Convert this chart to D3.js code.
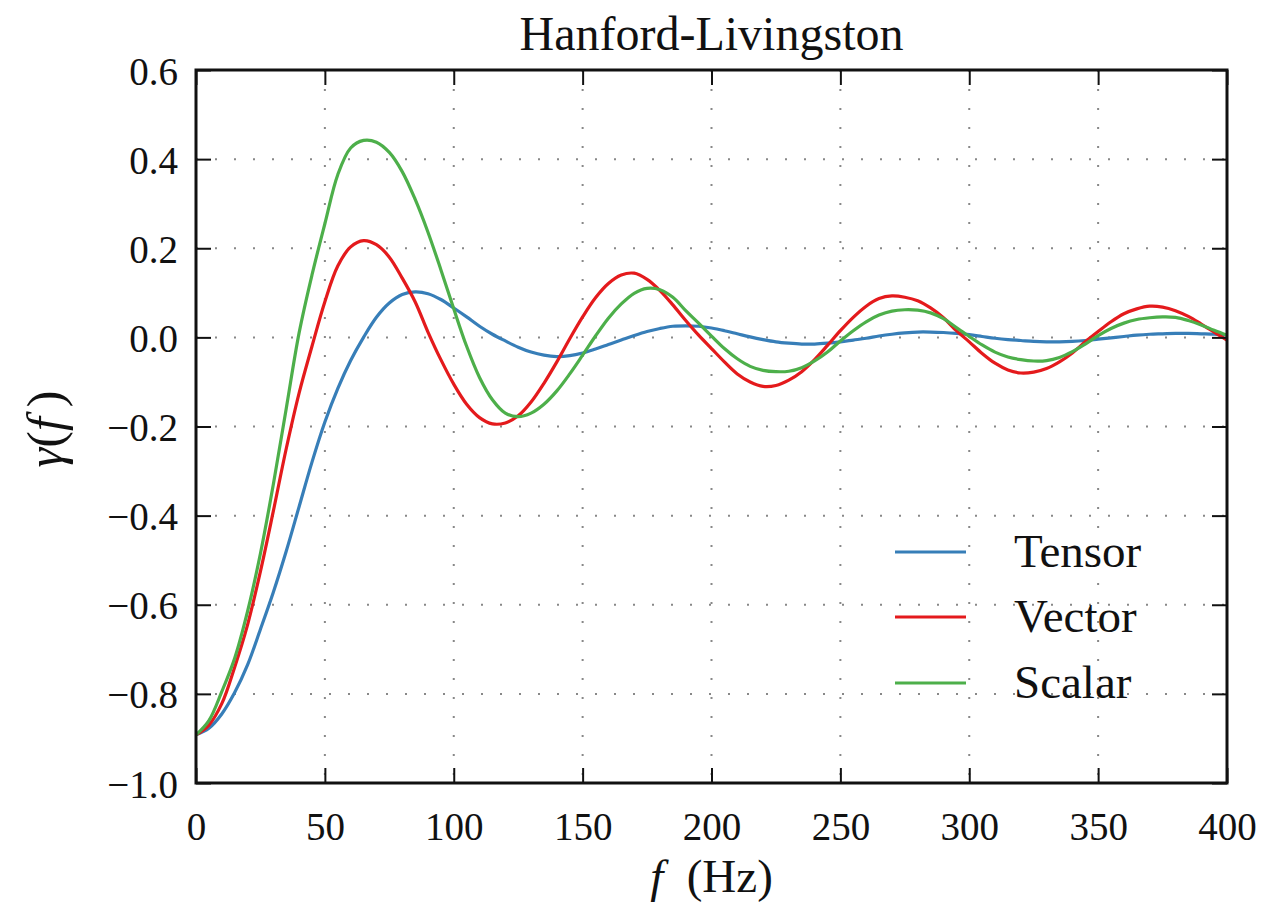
<!DOCTYPE html>
<html>
<head>
<meta charset="utf-8">
<script src="https://cdn.jsdelivr.net/npm/d3@7"></script>
<style>
    body { margin: 0; background: #fff; }
</style>
</head>
<body>
<svg id="chart" width="1272" height="906"></svg>
<script>
// frequency samples (Hz) and overlap reduction values
const freq = [0, 5, 10, 15, 20, 25, 30, 35, 40, 45, 50, 55, 60, 65, 70, 75, 80, 85, 90, 95,
    100, 105, 110, 115, 120, 125, 130, 135, 140, 145, 150, 155, 160, 165, 170, 175, 180, 185, 190, 195,
    200, 205, 210, 215, 220, 225, 230, 235, 240, 245, 250, 255, 260, 265, 270, 275, 280, 285, 290, 295,
    300, 305, 310, 315, 320, 325, 330, 335, 340, 345, 350, 355, 360, 365, 370, 375, 380, 385, 390, 395, 400];

const tensor = [-0.892, -0.877, -0.845, -0.797, -0.735, -0.655, -0.572, -0.480, -0.380, -0.280,
    -0.190, -0.115, -0.052, 0.000, 0.045, 0.077, 0.096, 0.102, 0.098, 0.085,
    0.066, 0.046, 0.025, 0.007, -0.008, -0.022, -0.033, -0.040, -0.043, -0.041,
    -0.035, -0.026, -0.016, -0.006, 0.004, 0.013, 0.020, 0.025, 0.026, 0.025,
    0.021, 0.015, 0.008, 0.001, -0.005, -0.010, -0.013, -0.015, -0.015, -0.013,
    -0.010, -0.006, -0.002, 0.003, 0.007, 0.010, 0.012, 0.012, 0.011, 0.009,
    0.006, 0.002, -0.002, -0.005, -0.007, -0.009, -0.010, -0.010, -0.009, -0.007,
    -0.004, -0.001, 0.002, 0.005, 0.007, 0.008, 0.009, 0.009, 0.008, 0.007, 0.005];

const vector = [-0.892, -0.870, -0.822, -0.740, -0.645, -0.525, -0.390, -0.250, -0.125, -0.020,
    0.080, 0.160, 0.203, 0.217, 0.208, 0.180, 0.133, 0.080, 0.012, -0.050,
    -0.105, -0.150, -0.180, -0.194, -0.192, -0.176, -0.145, -0.103, -0.055, -0.003,
    0.046, 0.089, 0.121, 0.140, 0.144, 0.130, 0.105, 0.073, 0.038, 0.005,
    -0.025, -0.055, -0.082, -0.100, -0.110, -0.108, -0.096, -0.077, -0.050, -0.018,
    0.015, 0.045, 0.070, 0.087, 0.093, 0.090, 0.082, 0.066, 0.044, 0.015,
    -0.010, -0.036, -0.058, -0.073, -0.080, -0.078, -0.070, -0.055, -0.035, -0.010,
    0.013, 0.035, 0.053, 0.064, 0.070, 0.068, 0.060, 0.047, 0.030, 0.012, -0.006];

const scalar = [-0.892, -0.860, -0.795, -0.720, -0.615, -0.485, -0.330, -0.160, 0.010, 0.140,
    0.255, 0.365, 0.425, 0.442, 0.438, 0.415, 0.372, 0.310, 0.236, 0.152,
    0.064, -0.020, -0.090, -0.140, -0.170, -0.178, -0.170, -0.150, -0.120, -0.082,
    -0.040, 0.003, 0.043, 0.075, 0.099, 0.110, 0.107, 0.090, 0.060, 0.032,
    0.003, -0.025, -0.048, -0.065, -0.074, -0.077, -0.076, -0.068, -0.053, -0.033,
    -0.008, 0.015, 0.035, 0.050, 0.059, 0.062, 0.061, 0.055, 0.042, 0.022,
    0.002, -0.017, -0.033, -0.044, -0.050, -0.053, -0.052, -0.045, -0.032, -0.015,
    0.004, 0.020, 0.032, 0.040, 0.044, 0.046, 0.045, 0.038, 0.028, 0.016, 0.005];

const seriesNames = ["Tensor", "Vector", "Scalar"];
const seriesColors = ["#377eb8", "#e41a1c", "#4daf4a"];
const xTicks = [0, 50, 100, 150, 200, 250, 300, 350, 400];
const yTicks = [-1.0, -0.8, -0.6, -0.4, -0.2, 0.0, 0.2, 0.4, 0.6];

const serif = '"Liberation Serif", "DejaVu Serif", serif';
const margin = {left: 196, right: 45, top: 70, bottom: 123};
const width = 1272 - margin.left - margin.right;
const height = 906 - margin.top - margin.bottom;

const svg = d3.select("#chart");
const g = svg.append("g").attr("transform", "translate(" + margin.left + "," + margin.top + ")");

const x = d3.scaleLinear().domain([0, 400]).range([0, width]);
const y = d3.scaleLinear().domain([-1.0, 0.6]).range([height, 0]);

// dotted grid
const grid = g.append("g").attr("class", "grid")
    .attr("stroke", "#888")
    .attr("stroke-width", 2)
    .attr("stroke-dasharray", "2,17");
grid.selectAll(".vgrid")
    .data(xTicks.slice(1, -1))
    .join("line")
    .attr("x1", d => x(d)).attr("x2", d => x(d))
    .attr("y1", 0).attr("y2", height);
grid.selectAll(".hgrid")
    .data(yTicks.slice(1, -1))
    .join("line")
    .attr("y1", d => y(d)).attr("y2", d => y(d))
    .attr("x1", 0).attr("x2", width);

// curves
const series = [tensor, vector, scalar];
const line = d3.line()
    .x((d, i) => x(freq[i]))
    .y(d => y(d))
    .curve(d3.curveCatmullRom.alpha(0.5));

g.append("g").attr("class", "curves")
    .selectAll("path")
    .data(series)
    .join("path")
    .attr("d", d => line(d))
    .attr("fill", "none")
    .attr("stroke", (d, i) => seriesColors[i])
    .attr("stroke-width", 3.2)
    .attr("stroke-linejoin", "round");

// axes: ticks point inward on all four sides
const tickLen = 15;
function styleAxis(sel){
    sel.attr("font-family", serif);
    sel.select(".domain").remove();
    sel.selectAll(".tick line").attr("stroke", "#111").attr("stroke-width", 2);
    sel.selectAll(".tick text")
        .style("font-family", serif)
        .style("font-size", "39px")
        .attr("fill", "#111");
}

g.append("g")
    .attr("transform", "translate(0," + height + ")")
    .call(d3.axisBottom(x).tickValues(xTicks).tickSize(-tickLen).tickPadding(20).tickFormat(d3.format("d")))
    .call(styleAxis)
    .selectAll(".tick text").attr("dy", "0.95em");

g.append("g")
    .call(d3.axisTop(x).tickValues(xTicks).tickSize(-tickLen).tickFormat(""))
    .call(styleAxis);

g.append("g")
    .call(d3.axisLeft(y).tickValues(yTicks).tickSize(-tickLen).tickPadding(18).tickFormat(d3.format(".1f")))
    .call(styleAxis)
    .selectAll(".tick text").attr("dy", "0.36em");

g.append("g")
    .attr("transform", "translate(" + width + ",0)")
    .call(d3.axisRight(y).tickValues(yTicks).tickSize(-tickLen).tickFormat(""))
    .call(styleAxis);

// frame
g.append("rect")
    .attr("width", width).attr("height", height)
    .attr("fill", "none")
    .attr("stroke", "#111")
    .attr("stroke-width", 3);

// legend
const legend = g.append("g").attr("class", "legend");
const legendY = [552, 617, 683];
seriesNames.forEach(function(name, i){
    const ly = legendY[i] - margin.top;
    legend.append("line")
        .attr("x1", 895 - margin.left).attr("x2", 966 - margin.left)
        .attr("y1", ly).attr("y2", ly)
        .attr("stroke", seriesColors[i])
        .attr("stroke-width", 3.2);
    legend.append("text")
        .attr("x", 1014 - margin.left)
        .attr("y", ly + 15)
        .style("font-family", serif)
        .style("font-size", "47px")
        .attr("fill", "#111")
        .text(name);
});

// title and axis labels
svg.append("text")
    .attr("x", margin.left + width / 2)
    .attr("y", 50)
    .attr("text-anchor", "middle")
    .style("font-family", serif)
    .style("font-size", "48px")
    .attr("fill", "#111")
    .text("Hanford-Livingston");

const xLabel = svg.append("text")
    .attr("x", margin.left + width / 2)
    .attr("y", 892)
    .attr("text-anchor", "middle")
    .style("font-family", serif)
    .style("font-size", "47px")
    .attr("fill", "#111");
xLabel.append("tspan").style("font-style", "italic").text("f");
xLabel.append("tspan").text("\u2002(Hz)");

const yLabel = svg.append("text")
    .attr("transform", "translate(62,429) rotate(-90)")
    .attr("text-anchor", "middle")
    .style("font-family", serif)
    .style("font-size", "50px")
    .attr("fill", "#111");
yLabel.append("tspan").style("font-style", "italic").text("γ");
yLabel.append("tspan").text("(");
yLabel.append("tspan").style("font-style", "italic").text("f");
yLabel.append("tspan").text("\u2009)");
</script>
</body>
</html>
